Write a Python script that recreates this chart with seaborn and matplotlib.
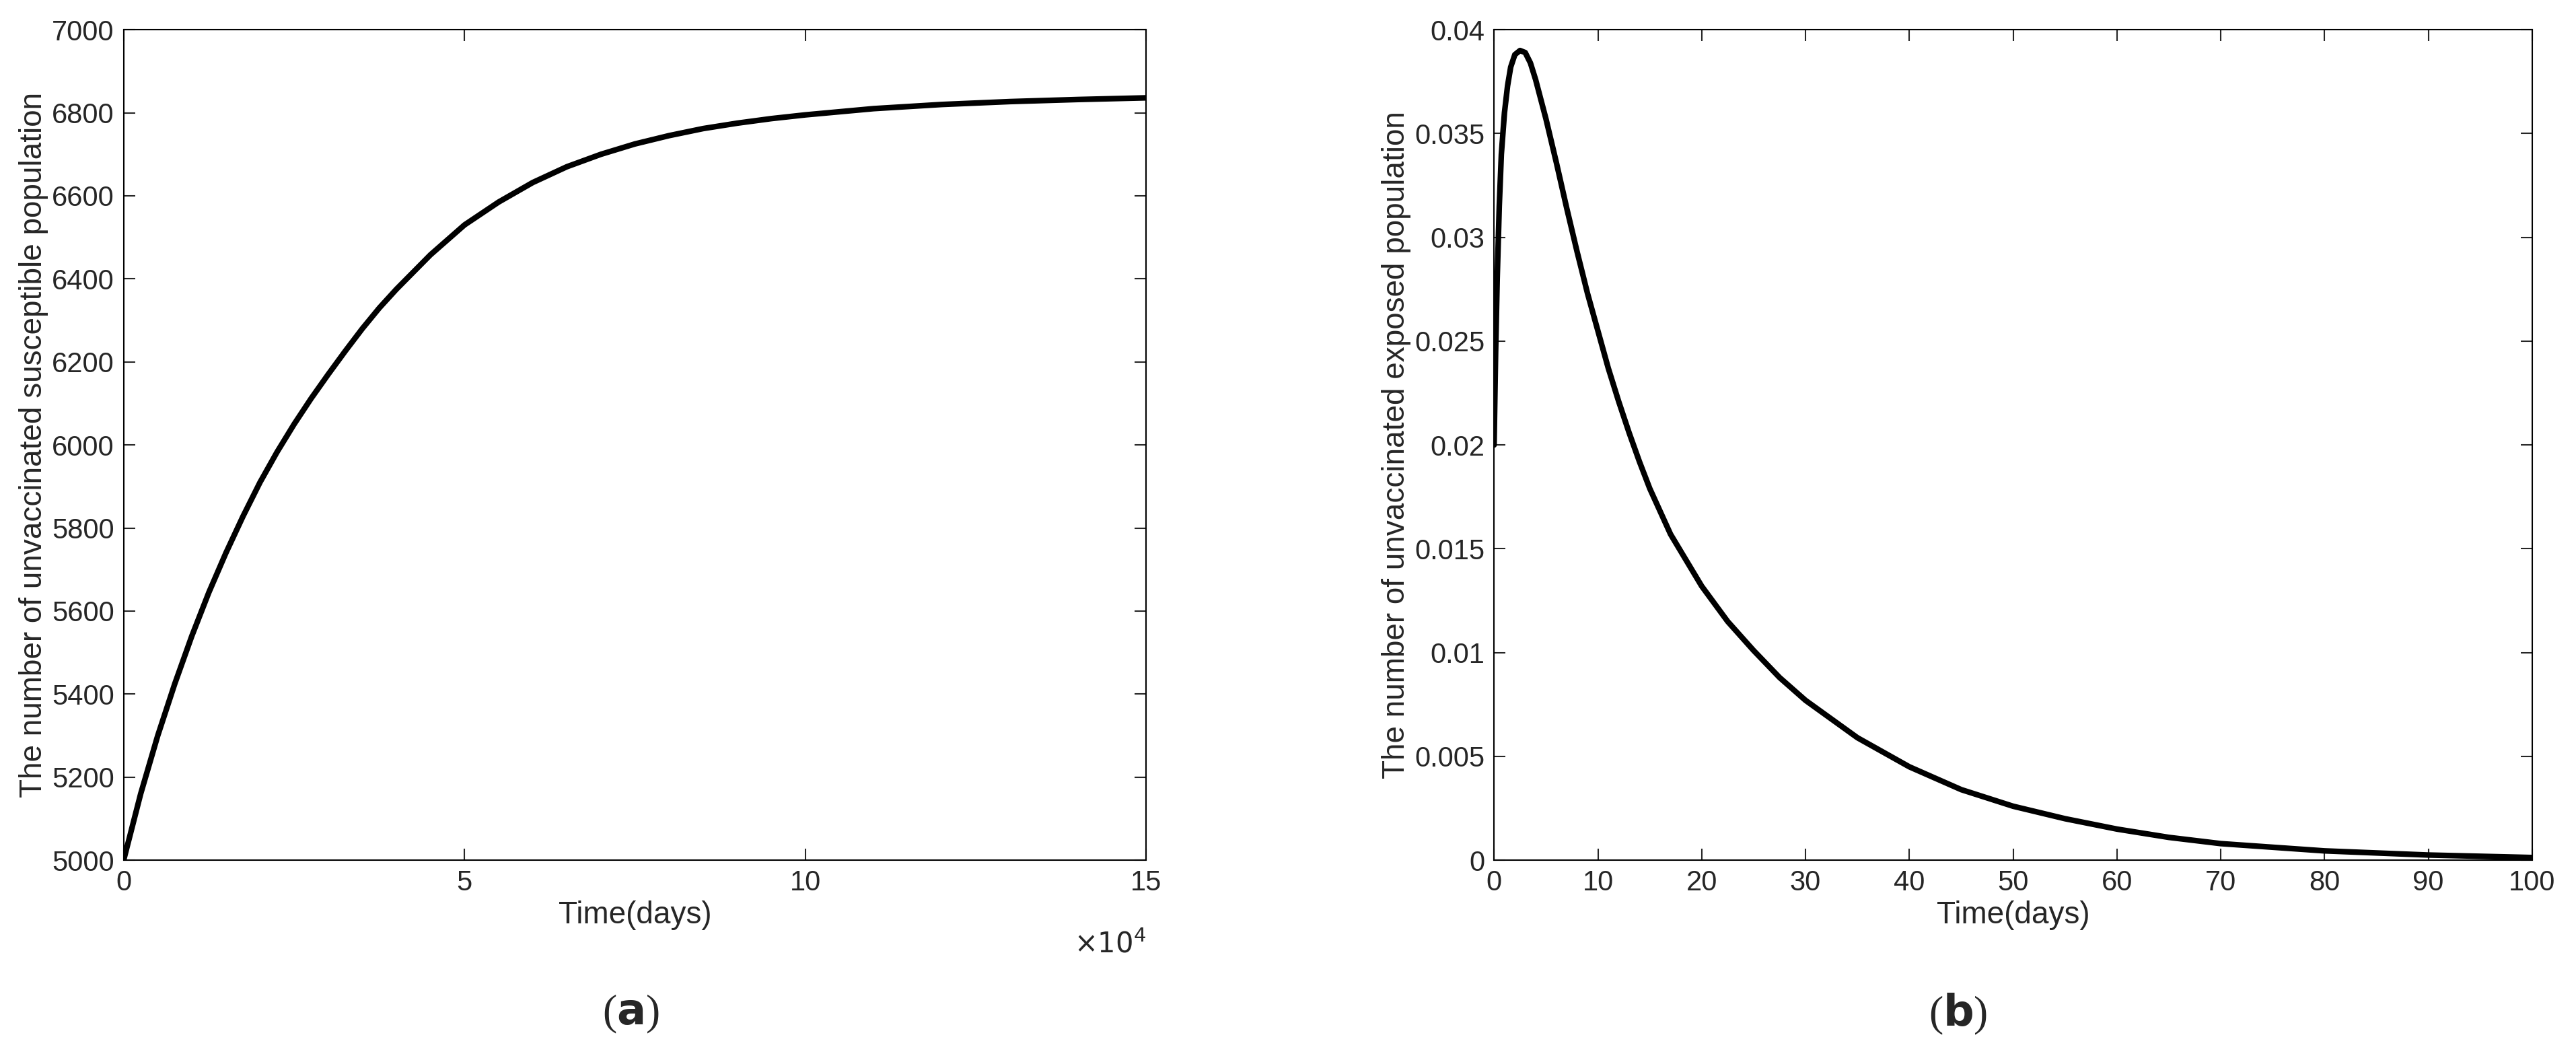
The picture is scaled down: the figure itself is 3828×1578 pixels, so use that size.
import matplotlib
matplotlib.use("Agg")
import matplotlib.pyplot as plt
import seaborn as sns

sns.set_style("white")
plt.rcParams['font.family'] = ['Liberation Sans', 'DejaVu Sans']

t_a = [0, 0.25, 0.5, 0.75, 1, 1.25, 1.5, 1.75, 2, 2.25, 2.5, 2.75, 3, 3.25, 3.5, 3.75, 4, 4.5, 5,
       5.5, 6, 6.5, 7, 7.5, 8, 8.5, 9, 9.5, 10, 11, 12, 13, 14, 15]
s_a = [5000, 5160, 5300, 5425, 5540, 5645, 5740, 5828, 5910, 5983, 6050, 6112, 6170, 6226,
       6280, 6330, 6375, 6458, 6530, 6585, 6632, 6670, 6700, 6725, 6745, 6762, 6775, 6786,
       6795, 6810, 6820, 6827, 6832, 6836]
t_b = [0, 0.15, 0.3, 0.5, 0.7, 1.0, 1.3, 1.6, 2, 2.5, 3, 3.5, 4, 5, 6, 7, 8, 9, 10, 11, 12, 13,
       14, 15, 17, 20, 22.5, 25, 27.5, 30, 35, 40, 45, 50, 55, 60, 65, 70, 80, 90, 100]
e_b = [0.020, 0.0245, 0.028, 0.0315, 0.034, 0.036, 0.0373, 0.0382, 0.0388, 0.0390, 0.0389,
       0.0384, 0.0376, 0.0357, 0.0336, 0.0314, 0.0293, 0.0273, 0.0255, 0.0237, 0.0221, 0.0206,
       0.0192, 0.0179, 0.0157, 0.0132, 0.0115, 0.0101, 0.0088, 0.0077, 0.0059, 0.0045, 0.0034,
       0.0026, 0.0020, 0.0015, 0.0011, 0.0008, 0.00045, 0.00025, 0.00013]

fig = plt.figure(figsize=(38.28, 15.78), dpi=100)
axA = fig.add_axes([0.048, 0.19, 0.397, 0.782])
axB = fig.add_axes([0.580, 0.19, 0.403, 0.782])

sns.lineplot(x=[v * 1e4 for v in t_a], y=s_a, ax=axA, color='black', lw=6)
sns.lineplot(x=t_b, y=e_b, ax=axB, color='black', lw=6)

axA.set_xlim(0, 1.5e5); axA.set_ylim(5000, 7000)
axA.set_xticks([0, 5e4, 1e5, 1.5e5]); axA.set_xticklabels(['0', '5', '10', '15'])
axA.set_yticks(range(5000, 7001, 200))
axA.text(1.0, -0.085, r'$\times10^4$', transform=axA.transAxes, ha='right', va='top', fontsize=30)
axA.set_ylabel('The number of unvaccinated susceptible population', fontsize=33)

axB.set_xlim(0, 100); axB.set_ylim(0, 0.04)
axB.set_xticks(range(0, 101, 10))
axB.set_yticks([0, 0.005, 0.01, 0.015, 0.02, 0.025, 0.03, 0.035, 0.04])
axB.set_yticklabels(['0', '0.005', '0.01', '0.015', '0.02', '0.025', '0.03', '0.035', '0.04'])
axB.set_ylabel('The number of unvaccinated exposed population', fontsize=33)

for ax in (axA, axB):
    ax.set_xlabel('Time(days)', fontsize=33, labelpad=4)
    ax.tick_params(direction='in', length=12, width=1.5, labelsize=30, top=True, right=True,
                   bottom=True, left=True, pad=10)
    for s in ax.spines.values():
        s.set_visible(True); s.set_color('black'); s.set_linewidth(1.5)

for x, lab in ((0.245, 'a'), (0.760, 'b')):
    fig.text(x, 0.045, '(' + r'$\mathbf{' + lab + '}$' + ')', ha='center', va='center',
             fontsize=46, family='Liberation Serif')
plt.rcParams['mathtext.fontset'] = 'custom'
fig.savefig('out.png', dpi=100)
